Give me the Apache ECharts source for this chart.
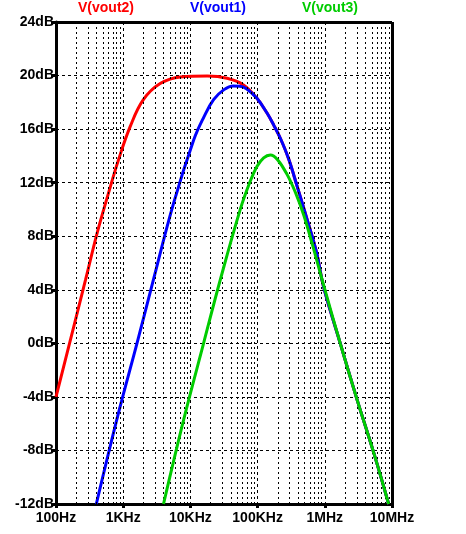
<!DOCTYPE html>
<html>
<head>
<meta charset="utf-8">
<script src="https://cdn.jsdelivr.net/npm/echarts@6/dist/echarts.min.js"></script>
<style>html,body{margin:0;padding:0;background:#fff}#chart{width:466px;height:534px}</style>
</head>
<body>
<div id="chart"></div>
<script>
// [log10(freq), dB]
var vout2 = [[2,-4],[2.44,4.75],[2.61,8.2],[2.78,11.2],[2.93,13.7],[3.105,16.2],[3.3,18.2],[3.55,19.4],[3.85,19.9],[4.25,19.96],[4.545,19.8],[4.79,19.3],[4.99,18.3],[5.14,17.2],[5.24,16.3],[5.34,15.3],[5.46,13.8],[5.59,11.7],[5.74,9.2],[5.88,6.74],[5.98,4.25],[6.23,0],[6.48,-4.2],[6.73,-8.2],[6.95,-12]];
var vout1 = [[2.6,-12],[2.93,-5.2],[3.205,0],[3.45,4.75],[3.75,10.47],[4.05,15.2],[4.2,16.9],[4.345,18.2],[4.5,18.95],[4.64,19.22],[4.74,19.2],[4.84,19.0],[4.99,18.3],[5.14,17.2],[5.24,16.3],[5.34,15.3],[5.46,13.8],[5.59,11.7],[5.74,9.2],[5.88,6.74],[5.98,4.25],[6.23,0],[6.48,-4.2],[6.73,-8.2],[6.95,-12]];
var vout3 = [[3.6,-12],[3.9,-5.7],[4.196,0],[4.445,4.75],[4.74,9.97],[4.89,12.1],[4.99,13.2],[5.09,13.85],[5.19,14.07],[5.3,13.7],[5.44,12.6],[5.56,11.3],[5.685,9.6],[5.82,7.3],[5.96,4.75],[6.23,0],[6.48,-4.2],[6.73,-8.2],[6.95,-12]];
var xLabels = {100:'100Hz',1000:'1KHz',10000:'10KHz',100000:'100KHz',1000000:'1MHz',10000000:'10MHz'};

function toHz(arr){
	return arr.map(function(p){ return [Math.pow(10,p[0]), p[1]]; });
}
var minorLines = [];
for (var d = 100; d < 1e7; d *= 10) {
	for (var k = 2; k <= 9; k++) minorLines.push({xAxis: d*k});
}

var myChart = echarts.init(document.getElementById('chart'));
var font = 'Liberation Sans, Arial, sans-serif';
var option = {
	animation: false,
	grid: {left: 56, right: 74, top: 22, bottom: 30},
	graphic: [
		{type:'text', left: 78, top: 1, style:{text:'V(vout2)', fill:'#ff0000', font:'bold 14px '+font}},
		{type:'text', left: 190, top: 1, style:{text:'V(vout1)', fill:'#0000ff', font:'bold 14px '+font}},
		{type:'text', left: 302, top: 1, style:{text:'V(vout3)', fill:'#00cc00', font:'bold 14px '+font}}
	],
	xAxis: {
		type: 'log', min: 100, max: 1e7, logBase: 10,
		axisLine: {onZero: false, lineStyle: {color: '#000', width: 3}},
		axisTick: {length: 4, lineStyle: {color: '#000', width: 3}},
		axisLabel: {color: '#000', fontWeight: 'bold', fontSize: 14, fontFamily: font, margin: 7,
			formatter: function(v){ return xLabels[Math.round(v)] || ''; }},
		splitLine: {show: true, lineStyle: {color: '#000', type: [3,3], width: 1}}
	},
	yAxis: {
		type: 'value', min: -12, max: 24, interval: 4,
		axisLine: {show: true, lineStyle: {color: '#000', width: 3}},
		axisTick: {show: true, length: 5, lineStyle: {color: '#000', width: 3}},
		axisLabel: {color: '#000', fontWeight: 'bold', fontSize: 14, fontFamily: font, margin: 2,
			formatter: function(v){ return v + 'dB'; }},
		splitLine: {show: true, lineStyle: {color: '#000', type: [3,3], width: 1}}
	},
	series: [
		{type:'line', data: [], silent: true,
			markLine: {symbol:'none', silent:true, label:{show:false},
				lineStyle:{color:'#000', type:[2,3], width:1}, data: minorLines}},
		{type:'line', data: [], silent: true,
			markLine: {symbol:'none', silent:true, label:{show:false},
				lineStyle:{color:'#000', type:'solid', width:3},
				data: [{xAxis: 1e7}, {yAxis: 24}]}},
		{name:'V(vout2)', type:'line', smooth:0.4, showSymbol:false, data: toHz(vout2), lineStyle:{color:'#ff0000', width:3}, z:3},
		{name:'V(vout1)', type:'line', smooth:0.4, showSymbol:false, data: toHz(vout1), lineStyle:{color:'#0000ff', width:3}, z:4},
		{name:'V(vout3)', type:'line', smooth:0.4, showSymbol:false, data: toHz(vout3), lineStyle:{color:'#00cc00', width:3}, z:5}
	]
};
myChart.setOption(option);
</script>
</body>
</html>
